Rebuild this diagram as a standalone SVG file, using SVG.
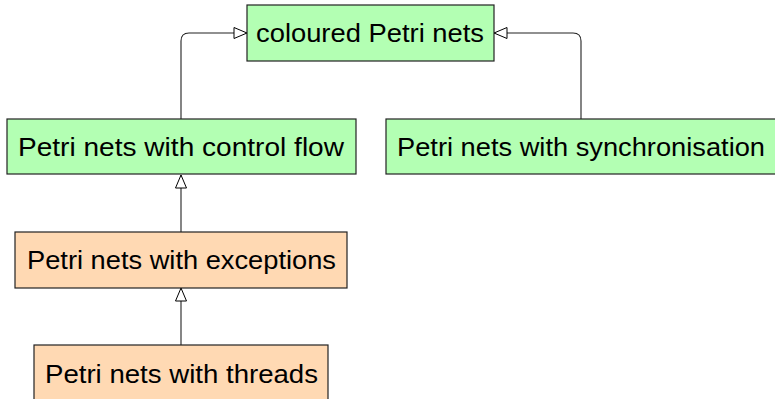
<svg xmlns="http://www.w3.org/2000/svg" width="775" height="399" viewBox="0 0 775 399">
<defs>
<marker id="tri" viewBox="0 0 15 13" refX="14" refY="6.5" markerWidth="15" markerHeight="13" markerUnits="userSpaceOnUse" orient="auto">
<path d="M1,1 L14,6.5 L1,12 Z" fill="#fff" stroke="#000" stroke-width="1"/>
</marker>
<style>
.g{fill:#b3ffb3;stroke:#222;stroke-width:1.2}
.o{fill:#ffd9b3;stroke:#222;stroke-width:1.2}
.t{font-family:"Liberation Sans","DejaVu Sans",sans-serif;font-size:26px;fill:#000}
.c{fill:none;stroke:#222;stroke-width:1.1;marker-end:url(#tri)}
</style>
</defs>
<g id="connectors">
<path class="c" d="M181,119 V41 Q181,33 189,33 H247"/>
<path class="c" d="M581,119 V41 Q581,33 573,33 H494"/>
<path class="c" d="M181,232 V175"/>
<path class="c" d="M181,345 V288"/>
</g>
<g id="coloured">
<rect class="g" x="247" y="5" width="247" height="56"/>
<text class="t" x="256" y="42" textLength="228" lengthAdjust="spacingAndGlyphs">coloured Petri nets</text>
</g>
<g id="controlflow">
<rect class="g" x="7" y="119" width="349" height="55"/>
<text class="t" x="18" y="156" textLength="326" lengthAdjust="spacingAndGlyphs">Petri nets with control flow</text>
</g>
<g id="synchronisation">
<rect class="g" x="386" y="119" width="395" height="55"/>
<text class="t" x="397" y="156" textLength="368" lengthAdjust="spacingAndGlyphs">Petri nets with synchronisation</text>
</g>
<g id="exceptions">
<rect class="o" x="15" y="232" width="332" height="56"/>
<text class="t" x="27" y="269" textLength="309" lengthAdjust="spacingAndGlyphs">Petri nets with exceptions</text>
</g>
<g id="threads">
<rect class="o" x="34" y="345" width="294" height="60"/>
<text class="t" x="45" y="383" textLength="273" lengthAdjust="spacingAndGlyphs">Petri nets with threads</text>
</g>
</svg>
